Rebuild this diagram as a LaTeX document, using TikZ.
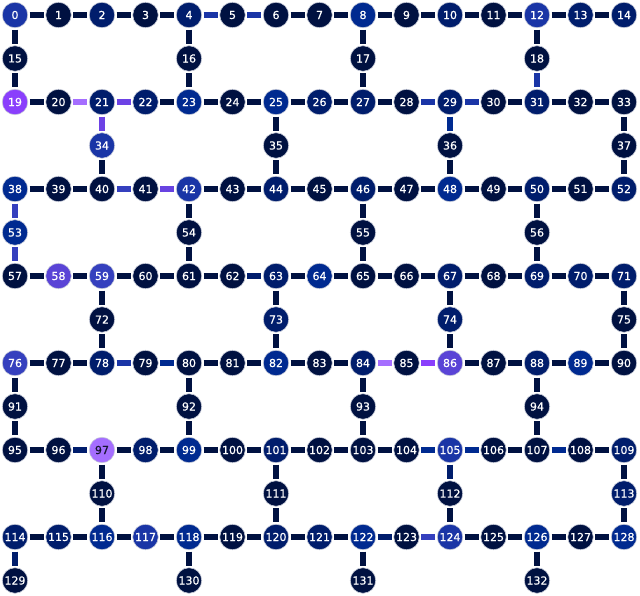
\documentclass[tikz,border=0pt]{standalone}
\usepackage{fontspec}
\setmainfont{DejaVu Sans}[FakeBold=0.6]
\definecolor{qA}{HTML}{001141}
\definecolor{qB}{HTML}{001D6C}
\definecolor{qC}{HTML}{002A90}
\definecolor{qD}{HTML}{1A35A6}
\definecolor{qE}{HTML}{3540BE}
\definecolor{qF}{HTML}{5A44D6}
\definecolor{qG}{HTML}{8A3FFC}
\definecolor{qH}{HTML}{A56EFF}
\definecolor{qRim}{HTML}{C9CDDA}
\definecolor{qInk}{HTML}{161630}
\tikzset{
  qubit/.style={circle, minimum size=25.5pt, inner sep=0pt, draw=qRim, line width=0.6pt, text=white},
  link/.style={line width=6pt, draw=qA, shorten >=1.5pt, shorten <=1.5pt},
  %coloured couplers
  l62-63/.style={draw=qB}, l96-97/.style={draw=qB}, l122-123/.style={draw=qB},
  l114-129/.style={draw=qB}, l105-112/.style={draw=qB},
  l29-36/.style={draw=qC}, l79-80/.style={draw=qC}, l104-105/.style={draw=qC},
  l107-108/.style={draw=qC}, l105-106/.style={draw=qC},
  l4-5/.style={draw=qD}, l5-6/.style={draw=qD}, l28-29/.style={draw=qD},
  l29-30/.style={draw=qD}, l18-31/.style={draw=qD}, l78-79/.style={draw=qD},
  l38-53/.style={draw=qE}, l53-57/.style={draw=qE}, l40-41/.style={draw=qE},
  l123-124/.style={draw=qE},
  l21-22/.style={draw=qF!60!qG}, l21-34/.style={draw=qF!60!qG}, l41-42/.style={draw=qF!70!qG},
  l85-86/.style={draw=qG},
  l20-21/.style={draw=qH}, l84-85/.style={draw=qH}
}
\begin{document}
\begin{tikzpicture}[x=1pt,y=-1pt]
\newcommand{\qubitlabel}[1]{
\fontsize{11}{12}\selectfont{#1}
}%Frame
\useasboundingbox (0,0) rectangle (640,596);
%Positions: long rows and the bridges below them
\foreach \r in {0,...,6} {
  \foreach \c in {0,...,14} {
    \pgfmathtruncatemacro\i{19*\r+\c}
    \coordinate (p\i) at ({15+43.5*\c},{15+87*\r});
  }
  \foreach \k in {0,...,3} {
    \pgfmathtruncatemacro\i{19*\r+15+\k}
    \pgfmathtruncatemacro\c{4*\k+2*mod(\r,2)}
    \coordinate (p\i) at ({15+43.5*\c},{58.5+87*\r});
  }
}
%Qubits, by shade
\foreach \i in {1,3,5,6,7,9,11,15,16,17,18,20,24,28,30,32,33,35,36,37,39,40,41,43,45,47,49,51,54,55,56,57,60,61,62,65,66,68,72,75,77,79,80,81,83,85,87,90,91,92,93,94,95,96,100,102,103,104,106,107,108,110,111,112,119,123,125,127,129,130,131,132}
  \node [qubit, fill=qA] (q\i) at (p\i) {\qubitlabel{\i}};
\foreach \i in {2,4,10,13,14,21,22,26,27,29,31,44,46,50,52,63,67,69,70,71,73,74,78,84,88,98,101,109,113,114,115,120,121}
  \node [qubit, fill=qB] (q\i) at (p\i) {\qubitlabel{\i}};
\foreach \i in {8,23,25,38,48,53,64,82,89,99,116,118,122,126,128}
  \node [qubit, fill=qC] (q\i) at (p\i) {\qubitlabel{\i}};
\foreach \i in {0,12,34,42,105,117,124}
  \node [qubit, fill=qD] (q\i) at (p\i) {\qubitlabel{\i}};
\foreach \i in {59,76}
  \node [qubit, fill=qE] (q\i) at (p\i) {\qubitlabel{\i}};
\foreach \i in {58,86}
  \node [qubit, fill=qF] (q\i) at (p\i) {\qubitlabel{\i}};
\node [qubit, fill=qG] (q19) at (p19) {\qubitlabel{19}};
\node [qubit, fill=qH, text=qInk] (q97) at (p97) {\qubitlabel{97}};
%Couplers
\foreach \r in {0,...,6} {
  \foreach \c in {0,...,13} {
    \pgfmathtruncatemacro\a{19*\r+\c}
    \pgfmathtruncatemacro\b{\a+1}
    \draw [link, l\a-\b/.try] (q\a) -- (q\b);
  }
  \foreach \k in {0,...,3} {
    \pgfmathtruncatemacro\m{19*\r+15+\k}
    \pgfmathtruncatemacro\u{19*\r+4*\k+2*mod(\r,2)}
    \draw [link, l\u-\m/.try] (q\u) -- (q\m);
    \ifnum\r<6
      \pgfmathtruncatemacro\d{\u+19}
      \draw [link, l\m-\d/.try] (q\m) -- (q\d);
    \fi
  }
}
\end{tikzpicture}
\end{document}
